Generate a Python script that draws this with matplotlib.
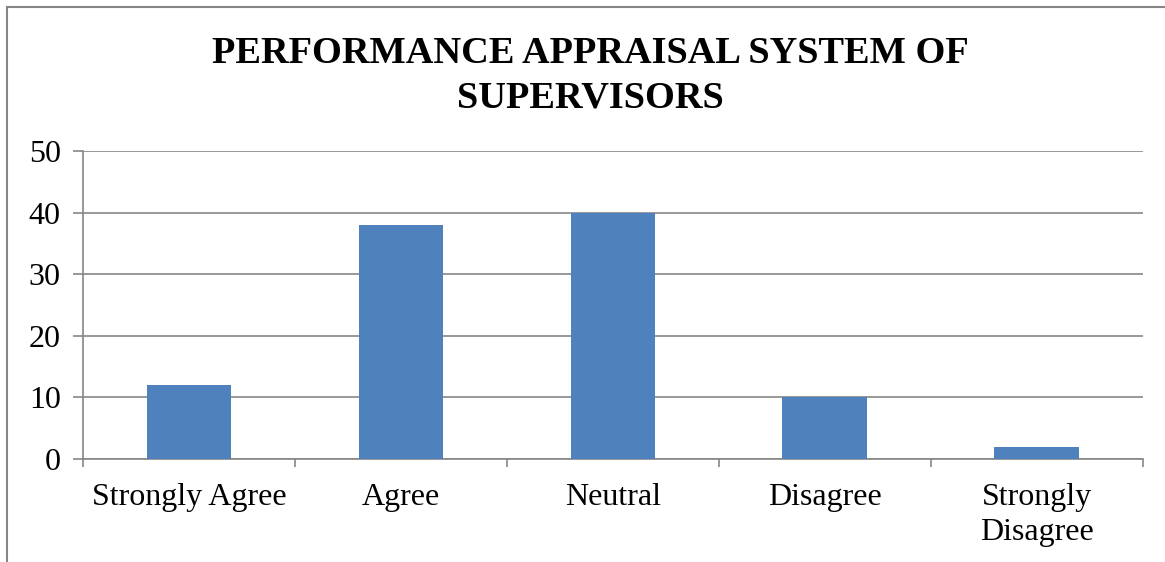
import numpy as np
import matplotlib.pyplot as plt
from matplotlib.patches import Rectangle

categories = ['Strongly Agree', 'Agree', 'Neutral', 'Disagree', 'Strongly\nDisagree']
values = [12, 38, 40, 10, 2]
y_ticks = [0, 10, 20, 30, 40, 50]

plt.rcParams['font.family'] = ['Liberation Serif', 'DejaVu Serif']

fig = plt.figure(figsize=(11.65, 5.62), dpi=100)
ax = fig.add_axes([0.0712, 0.1833, 0.9098, 0.548])

grid_col = '#868686'
x_pos = np.arange(len(categories))
ax.bar(x_pos, values, width=0.4, color='#4F81BD', zorder=3)

ax.set_xlim(-0.5, len(categories) - 0.5)
ax.set_ylim(0, 50)
ax.set_yticks(y_ticks)
ax.set_yticklabels([str(t) for t in y_ticks], fontsize=23)
ax.yaxis.grid(True, color=grid_col, linewidth=1.2, zorder=0)

# category labels centred, tick marks between categories
ax.set_xticks(x_pos)
ax.set_xticklabels(categories, fontsize=23, linespacing=1.3)
ax.tick_params(axis='x', length=0, pad=17)
ax.set_xticks(np.arange(-0.5, len(categories)), minor=True)
ax.tick_params(axis='x', which='minor', length=6, width=1.2, color=grid_col, direction='out')
ax.tick_params(axis='y', length=7, width=1.2, color=grid_col, pad=9)

for side in ['top', 'right']:
    ax.spines[side].set_visible(False)
for side in ['left', 'bottom']:
    ax.spines[side].set_color(grid_col)
    ax.spines[side].set_linewidth(1.2)

fig.text(0.507, 0.905, 'PERFORMANCE APPRAISAL SYSTEM OF', ha='center', va='center',
         fontsize=27.6, fontweight='bold')
fig.text(0.507, 0.826, 'SUPERVISORS', ha='center', va='center',
         fontsize=27.6, fontweight='bold')

# chart border (left and top edges visible in the crop)
fig.add_artist(Rectangle((7 / 1165, -0.1), 1.2, 1.1 - 7 / 562,
                         transform=fig.transFigure, fill=False,
                         edgecolor=grid_col, linewidth=1.5))

fig.savefig('out.png', dpi=100)
